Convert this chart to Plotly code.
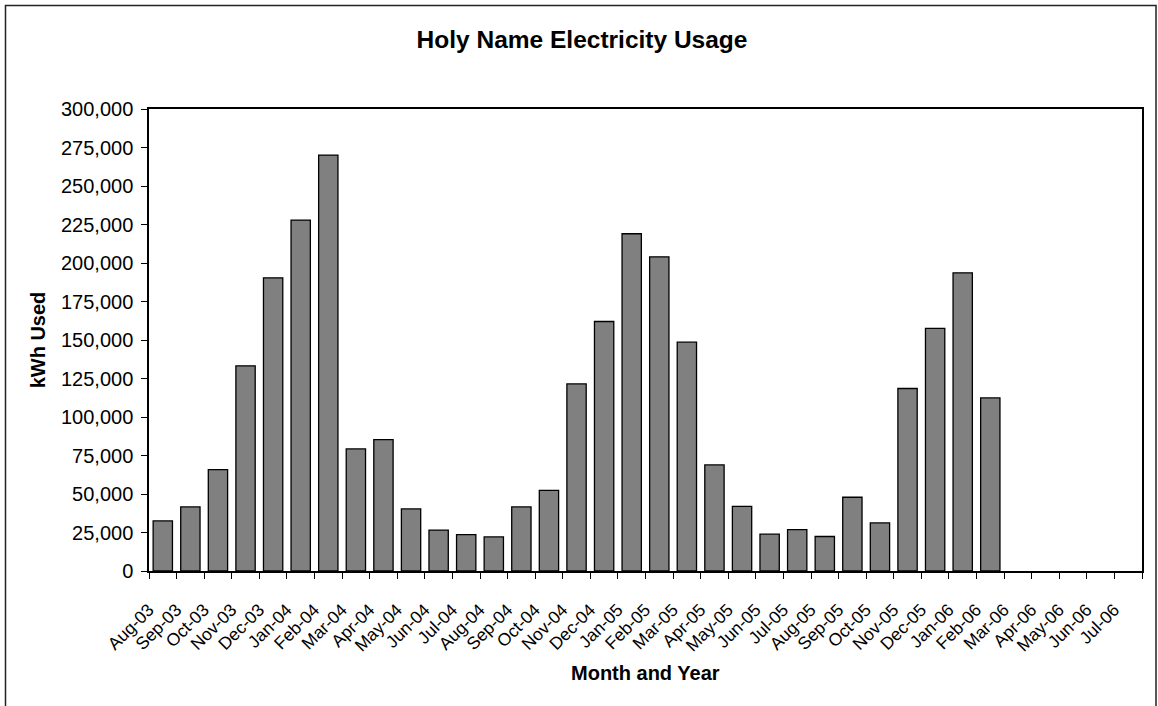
import plotly.graph_objects as go

months = ["Aug-03", "Sep-03", "Oct-03", "Nov-03", "Dec-03", "Jan-04", "Feb-04", "Mar-04",
          "Apr-04", "May-04", "Jun-04", "Jul-04", "Aug-04", "Sep-04", "Oct-04", "Nov-04",
          "Dec-04", "Jan-05", "Feb-05", "Mar-05", "Apr-05", "May-05", "Jun-05", "Jul-05",
          "Aug-05", "Sep-05", "Oct-05", "Nov-05", "Dec-05", "Jan-06", "Feb-06", "Mar-06",
          "Apr-06", "May-06", "Jun-06", "Jul-06"]

kwh_used = [32500, 41600, 65800, 133200, 190400, 227900, 270100, 79300,
            85300, 40300, 26600, 23600, 22100, 41600, 52400, 121500,
            162000, 219000, 204000, 148600, 68900, 42000, 23900, 26900,
            22400, 47900, 31200, 118500, 157500, 193600, 112400, None,
            None, None, None, None]

y_ticks = list(range(0, 300001, 25000))

FONT = "Liberation Sans, Arial, Helvetica, sans-serif"

fig = go.Figure()
fig.add_trace(go.Bar(
    x=months, y=kwh_used,
    marker=dict(color="#808080", line=dict(color="#000000", width=1.3)),
    hoverinfo="x+y",
))

W, H = 1158, 706
L, R, T, B = 149, 16, 109, 135
pw, ph = W - L - R, H - T - B

def px_x(p):
    return (p - L) / pw

def px_y(p):
    return (H - B - p) / ph

fig.update_layout(
    width=W, height=H,
    margin=dict(l=L, r=R, t=T, b=B, pad=0),
    paper_bgcolor="white", plot_bgcolor="white",
    font=dict(family=FONT, color="black", size=20),
    showlegend=False,
    bargap=0.30,
    title=dict(text="<b>Holy Name Electricity Usage</b>", font=dict(size=24.5, family=FONT, color="black"),
               x=582 / W, xref="container", xanchor="center",
               y=1 - 39.5 / H, yref="container", yanchor="middle"),
    xaxis=dict(
        type="category", tickangle=-45, tickfont=dict(size=17.5),
        ticks="outside", ticklen=6, tickcolor="black", tickwidth=1,
        tickson="boundaries", ticklabelshift=-14, ticklabelstandoff=20,
        showline=True, linecolor="black", linewidth=1.5, mirror=True,
        showgrid=False, zeroline=False,
    ),
    yaxis=dict(
        range=[0, 300000], tickvals=y_ticks, tickformat=",",
        ticks="outside", ticklen=6, tickcolor="black", tickwidth=1,
        tickfont=dict(size=20), ticklabelstandoff=4,
        showline=True, linecolor="black", linewidth=1.5, mirror=True,
        showgrid=False, zeroline=False,
        title=dict(text="<b>kWh Used</b>", font=dict(size=20), standoff=10),
    ),
    annotations=[dict(text="<b>Month and Year</b>", xref="paper", yref="paper",
                      x=0.5, y=px_y(673), xanchor="center", yanchor="middle",
                      showarrow=False, font=dict(size=20, family=FONT, color="black"))],
    shapes=[dict(type="rect", xref="paper", yref="paper",
                 x0=px_x(5.5), x1=px_x(1156), y0=px_y(710), y1=px_y(5.5),
                 line=dict(color="#222222", width=1.5), fillcolor="rgba(0,0,0,0)", layer="below")],
)

fig.write_html("out.html", config={"displayModeBar": False},
               post_script="document.body.style.margin='0';")
